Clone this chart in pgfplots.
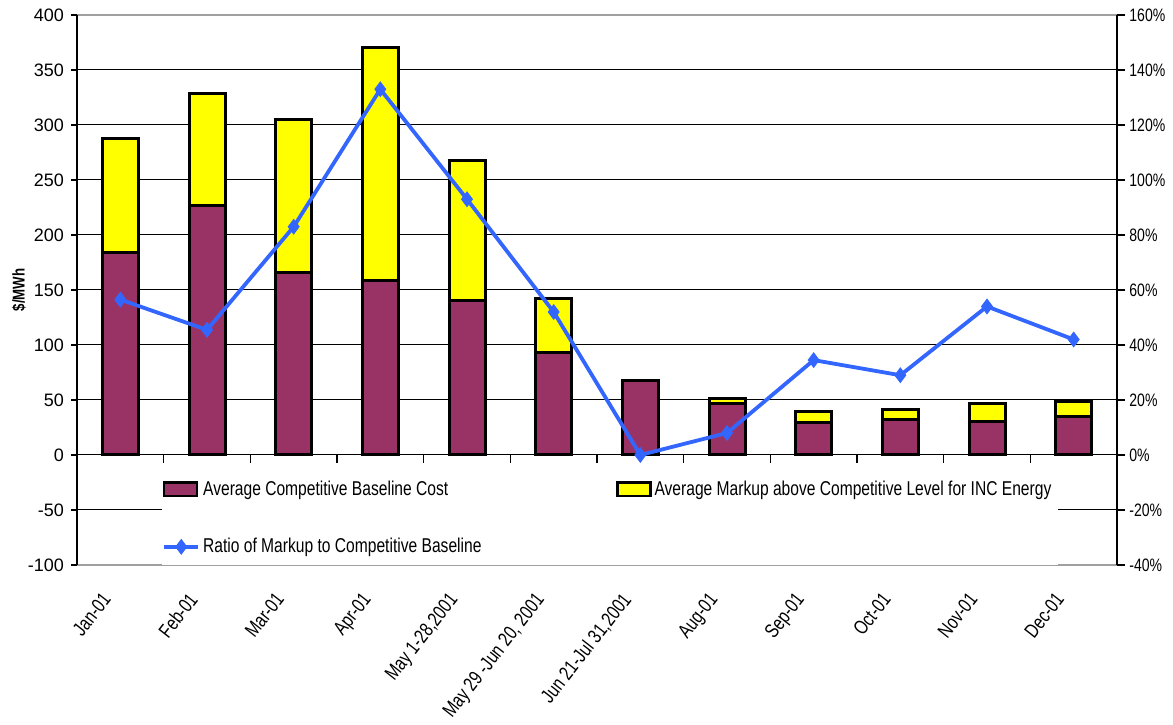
\documentclass[border=0pt]{standalone}
\usepackage{fontspec}
\setmainfont{Liberation Sans}
\newfontfamily\condfont{Liberation Sans}[FakeStretch=0.78]
\usepackage{pgfplots}
\usepackage{pgfplotstable}
\pgfplotsset{compat=1.18}
\usetikzlibrary{calc}
\definecolor{barpurple}{HTML}{993366}
\definecolor{baryellow}{HTML}{FFFF00}
\definecolor{lineblue}{HTML}{3366FF}
\definecolor{framegray}{HTML}{A0A0A0}

\pgfplotsset{
  boxlegend/.style={legend image code/.code={\draw[##1] (0pt,-3.4pt) rectangle (16.5pt,3.4pt);}},
  linelegend/.style={legend image code/.code={\draw[##1, mark=none] (0pt,0pt) -- (17pt,0pt); \draw[##1, only marks] plot coordinates {(8.5pt,0pt)};}},
}

\pgfplotstableread{
x base markup ratio
0 184 104 56.5
1 227 102 45.5
2 166 139 83
3 159 211 133
4 140 128 93
5 93 49 52
6 68 0 0
7 47 4 8
8 29.5 10 34.5
9 32 9.5 29
10 30 17 54
11 35 14 42
}\datatable

\begin{document}
\begin{tikzpicture}
\begin{axis}[
  scale only axis, width=520pt, height=275pt,
  xmin=-0.5, xmax=11.5, ymin=-100, ymax=400,
  ybar stacked, bar width=18pt,
  ytick={-100,-50,...,400},
  ymajorgrids, grid style={black, line width=0.5pt},
  xtick={0,...,11},
  xticklabels={Jan-01,Feb-01,Mar-01,Apr-01,{May 1-28,2001},{May 29 -Jun 20, 2001},{Jun 21-Jul 31,2001},Aug-01,Sep-01,Oct-01,Nov-01,Dec-01},
  major x tick style={draw=none},
  x tick label style={xshift=-10pt, yshift=-8.5pt, rotate=52, anchor=north east, font=\condfont\fontsize{10}{11}\selectfont, inner sep=1pt},
  y tick label style={font=\fontsize{9}{10}\selectfont},
  /pgf/number format/assume math mode=true,
  ytick pos=left, tick align=outside, major tick length=3pt,
  ytick style={black, line width=0.6pt},
  separate axis lines,
  x axis line style={draw=framegray, line width=1.2pt},
  y axis line style={draw=black, line width=1pt},
  ylabel={\$/MWh},
  ylabel style={at={(rel axis cs:0,0.5)}, anchor=center, yshift=29pt, font=\condfont\bfseries\fontsize{8.5}{9}\selectfont},
]
\addplot[fill=barpurple, draw=black, line width=1.5pt] table[x=x,y=base]{\datatable};
\addplot[fill=baryellow, draw=black, line width=1.5pt] table[x=x,y=markup]{\datatable};
\pgfplotsinvokeforeach{0.5,1.5,2.5,3.5,4.5,5.5,6.5,7.5,8.5,9.5,10.5}{
  \draw[black, line width=0.6pt] (axis cs:#1,0) -- (axis cs:#1,-7);
}
\coordinate (BL) at (rel axis cs:0,0);
\coordinate (TR) at (rel axis cs:1,1);
\end{axis}
\begin{axis}[
  scale only axis, width=520pt, height=275pt,
  xmin=-0.5, xmax=11.5, ymin=-40, ymax=160,
  ytick={-40,-20,...,160},
  yticklabel={\pgfmathprintnumber{\tick}\%},
  /pgf/number format/assume math mode=true,
  y tick label style={font=\condfont\fontsize{9}{10}\selectfont, inner xsep=2pt},
  axis y line*=right, axis x line=none,
  tick align=outside, major tick length=4pt,
  ytick style={black, line width=0.6pt},
  y axis line style={draw=black, line width=1pt},
  legend style={at={(0.0817,0.0)}, anchor=south west, fill=white, draw=none,
    font=\condfont\fontsize{10}{12}\selectfont, row sep=16pt, inner xsep=0pt, inner ysep=2.5pt,
    nodes={inner xsep=1.5pt}},
  legend columns=2, legend cell align=left,
]
\addlegendimage{fill=barpurple, draw=black, line width=1.2pt, boxlegend}
\addlegendentry{\makebox[205pt][l]{Average Competitive Baseline Cost}}
\addlegendimage{fill=baryellow, draw=black, line width=1.2pt, boxlegend}
\addlegendentry{\makebox[200pt][l]{Average Markup above Competitive Level for INC Energy}}
\addplot[lineblue, line width=1.9pt, mark=diamond*, mark size=3.6pt, mark options={fill=lineblue, line width=0.5pt}, linelegend]
  table[x=x,y=ratio]{\datatable};
\addlegendentry{Ratio of Markup to Competitive Baseline}
\end{axis}
\pgfresetboundingbox
\path[use as bounding box] ($(BL)+(-38.5pt,-80pt)$) rectangle ($(TR)+(28pt,7.5pt)$);
\end{tikzpicture}
\end{document}
